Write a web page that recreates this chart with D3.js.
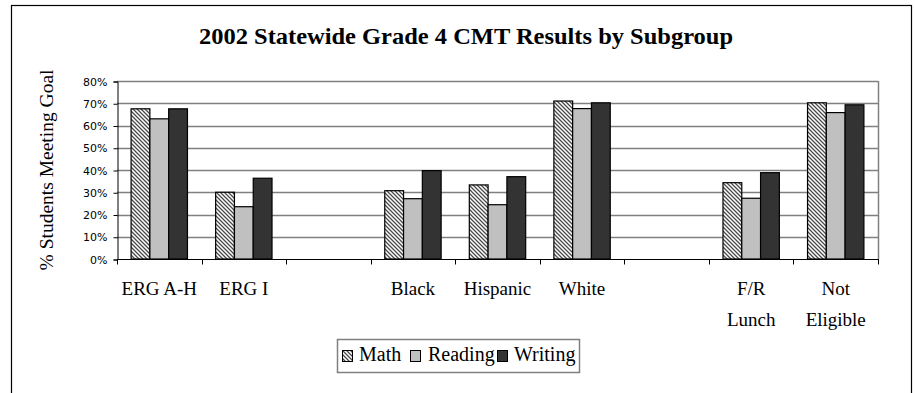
<!DOCTYPE html>
<html>
<head>
<meta charset="utf-8">
<script src="https://cdn.jsdelivr.net/npm/d3@7"></script>
<style>
  html, body { margin: 0; padding: 0; background: #fff; }
  svg { display: block; }
</style>
</head>
<body>
<svg id="chart" width="915" height="393"></svg>
<script>
// Subgroups along the x axis (empty strings are spacer slots between groups)
const categories = ["ERG A-H", "ERG I", "", "Black", "Hispanic", "White", "", "F/R\nLunch", "Not\nEligible"];
// Percent of students meeting goal, per subject
const math    = [67.5, 30, null, 30.7, 33.3, 71, null, 34.3, 70.2];
const reading = [63, 23.5, null, 27.1, 24.4, 67.6, null, 27.3, 65.8];
const writing = [67.5, 36.3, null, 39.7, 37, 70.2, null, 38.8, 69.3];
const seriesNames = ["Math", "Reading", "Writing"];
const yTicks = [0, 10, 20, 30, 40, 50, 60, 70, 80];

const series = [
  { name: seriesNames[0], values: math,    fill: "url(#hatch)" },
  { name: seriesNames[1], values: reading, fill: "#c0c0c0" },
  { name: seriesNames[2], values: writing, fill: "#333333" }
];

const svg = d3.select("#chart");
const serif = "'Liberation Serif', 'Times New Roman', serif";

// Diagonal hatch used for the Math bars
const defs = svg.append("defs");
const pat = defs.append("pattern")
  .attr("id", "hatch").attr("patternUnits", "userSpaceOnUse")
  .attr("width", 4).attr("height", 4);
pat.append("rect").attr("width", 4).attr("height", 4).attr("fill", "#ffffff");
pat.append("path").attr("d", "M-1,-1 L5,5 M-1,3 L1,5 M3,-1 L5,1")
  .attr("stroke", "#4a4a4a").attr("stroke-width", 1.3);

// Outer chart frame
svg.append("rect").attr("x", 11.5).attr("y", 5.5).attr("width", 900).attr("height", 420)
  .attr("fill", "none").attr("stroke", "#000").attr("stroke-width", 1.2);

// Title
svg.append("text")
  .attr("x", 466).attr("y", 44)
  .attr("text-anchor", "middle")
  .attr("font-family", serif).attr("font-weight", "bold").attr("font-size", 24)
  .attr("textLength", 534).attr("lengthAdjust", "spacingAndGlyphs")
  .text("2002 Statewide Grade 4 CMT Results by Subgroup");

const plot = { left: 117, right: 878, top: 81, bottom: 259 };

const x = d3.scaleBand().domain(d3.range(categories.length))
  .range([plot.left, plot.right]).paddingInner(0).paddingOuter(0);
const y = d3.scaleLinear().domain([0, 80]).range([plot.bottom, plot.top]);

// Gridlines
svg.append("g").selectAll("line").data(yTicks.filter(t => t > 0)).join("line")
  .attr("x1", plot.left).attr("x2", plot.right)
  .attr("y1", d => Math.round(y(d)) + 0.5).attr("y2", d => Math.round(y(d)) + 0.5)
  .attr("stroke", "#808080").attr("stroke-width", 1.5);

// Right plot border
svg.append("line")
  .attr("x1", plot.right + 0.5).attr("x2", plot.right + 0.5)
  .attr("y1", plot.top).attr("y2", plot.bottom)
  .attr("stroke", "#808080").attr("stroke-width", 1.5);

// Bars: three per group, 150% gap width
const barW = x.bandwidth() / 4.5;
const groups = svg.append("g").selectAll("g").data(series).join("g");
groups.each(function(s, si) {
  d3.select(this).selectAll("rect")
    .data(s.values.map((v, i) => ({ v, i })).filter(d => d.v != null))
    .join("rect")
    .attr("x", d => x(d.i) + barW * 0.75 + si * barW)
    .attr("y", d => y(d.v))
    .attr("width", barW)
    .attr("height", d => y(0) - y(d.v))
    .attr("fill", s.fill)
    .attr("stroke", "#000").attr("stroke-width", 1.2);
});

// Y axis
const yAxis = d3.axisLeft(y).tickValues(yTicks).tickSize(4).tickPadding(6)
  .tickFormat(d => d + "%");
const yg = svg.append("g").attr("transform", `translate(${plot.left + 0.5},0.5)`).call(yAxis);
yg.select(".domain").attr("stroke", "#000");
yg.selectAll(".tick line").attr("stroke", "#000");
yg.selectAll("text")
  .attr("font-family", "'DejaVu Sans', sans-serif").attr("font-size", 11).attr("fill", "#000");

// X axis with ticks at band boundaries
const xBase = svg.append("g").attr("transform", `translate(0,${plot.bottom + 0.5})`);
xBase.append("line").attr("x1", plot.left).attr("x2", plot.right + 1)
  .attr("stroke", "#000").attr("stroke-width", 1.2);
const bounds = d3.range(categories.length + 1).map(i => i < categories.length ? x(i) : plot.right);
xBase.selectAll(".xt").data(bounds).join("line")
  .attr("class", "xt")
  .attr("x1", d => Math.round(d) + 0.5).attr("x2", d => Math.round(d) + 0.5)
  .attr("y1", 0).attr("y2", 5)
  .attr("stroke", "#000");

// Category labels (multi-line where needed)
const labels = svg.append("g").selectAll("text").data(categories).join("text")
  .attr("x", (d, i) => x(i) + x.bandwidth() / 2)
  .attr("y", 295)
  .attr("text-anchor", "middle")
  .attr("font-family", serif).attr("font-size", 19).attr("fill", "#000");
labels.each(function(d, i) {
  const lines = d.split("\n");
  d3.select(this).selectAll("tspan").data(lines).join("tspan")
    .attr("x", x(i) + x.bandwidth() / 2)
    .attr("dy", (l, j) => j === 0 ? 0 : 31)
    .text(l => l);
});

// Y axis title
svg.append("text")
  .attr("transform", `translate(53,${(plot.top + plot.bottom) / 2}) rotate(-90)`)
  .attr("text-anchor", "middle")
  .attr("font-family", serif).attr("font-size", 19.5).attr("fill", "#000")
  .text("% Students Meeting Goal");

// Legend
const legend = svg.append("g");
legend.append("rect").attr("x", 337.5).attr("y", 339.5).attr("width", 242).attr("height", 33)
  .attr("fill", "#fff").attr("stroke", "#808080").attr("stroke-width", 1.5);
const legendSwatchX = [342, 410, 497];
const legendTextX = [359, 428, 514];
series.forEach((s, i) => {
  legend.append("rect")
    .attr("x", legendSwatchX[i] + 0.5).attr("y", 350.5)
    .attr("width", 10).attr("height", 11)
    .attr("fill", s.fill).attr("stroke", "#000").attr("stroke-width", 1);
  legend.append("text")
    .attr("x", legendTextX[i]).attr("y", 361)
    .attr("font-family", serif).attr("font-size", 20).attr("fill", "#000")
    .text(s.name);
});
</script>
</body>
</html>
